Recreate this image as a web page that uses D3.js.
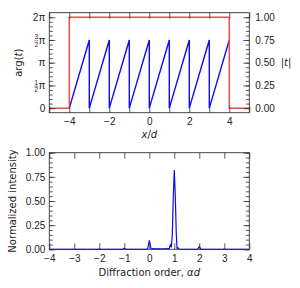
<!DOCTYPE html>
<html>
<head>
<meta charset="utf-8">
<script src="https://cdn.jsdelivr.net/npm/d3@7"></script>
<style>
    body { margin: 0; background: #fff; }
    svg { display: block; font-family: "DejaVu Sans", sans-serif; }
    .axis text { font-size: 10px; fill: #222; }
    .axis line { stroke: #333; stroke-width: 0.8; }
    .axis path { display: none; }
    .frame { fill: none; stroke: #333; stroke-width: 0.9; }
    .label { font-size: 10px; fill: #222; }
</style>
</head>
<body>
<div id="chart"></div>
<script>
// top panel: aperture phase (in units of pi) and magnitude
let phaseX = [-4, -3, -3, -2, -2, -1, -1, 0, 0, 1, 1, 2, 2, 3, 3, 4];
let phaseY = [0, 1.5, 0, 1.5, 0, 1.5, 0, 1.5, 0, 1.5, 0, 1.5, 0, 1.5, 0, 1.5];
let magX = [-5, -4, -4, 4, 4, 5];
let magY = [0, 0, 1, 1, 0, 0];

let posTicks = [-5, -4, -3, -2, -1, 0, 1, 2, 3, 4, 5];
let posLabels = [-4, -2, 0, 2, 4];
let phaseTicks = [0, 0.5, 1, 1.5, 2];
let phaseLabels = [["0"], ["1", "2"], ["π"], ["3", "2"], ["2π"]];
let magTicks = [0, 0.25, 0.5, 0.75, 1];

// bottom panel: far-field intensity
let orderX = [-4, -3.05, -3, -2.95, -2.05, -2, -1.95, -1.08, -1.04, -1, -0.96, -0.92,
    -0.1, -0.06, -0.03, 0, 0.03, 0.06, 0.09, 0.13, 0.17, 0.22, 0.27, 0.32, 0.37, 0.42,
    0.47, 0.52, 0.57, 0.62, 0.67, 0.72, 0.77, 0.8, 0.84, 0.88, 0.92, 0.96, 1, 1.04,
    1.08, 1.11, 1.15, 1.19, 1.25, 1.92, 1.96, 2, 2.04, 2.08, 2.96, 3, 3.04, 4];
let intensity = [0, 0, 0.002, 0, 0, 0.004, 0, 0, 0.004, 0.011, 0.004, 0,
    0, 0.01, 0.05, 0.092, 0.06, 0.015, 0.003, 0.008, 0.002, 0.007, 0.002, 0.006, 0.002, 0.006,
    0.002, 0.007, 0.003, 0.008, 0.003, 0.01, 0.005, 0.01, 0.045, 0.02, 0.15, 0.55, 0.82, 0.55,
    0.15, 0.01, 0.016, 0.003, 0, 0, 0.012, 0.028, 0.012, 0, 0, 0.005, 0, 0];
let orderTicks = [-4, -3, -2, -1, 0, 1, 2, 3, 4];
let intensityTicks = [0, 0.25, 0.5, 0.75, 1];

let width = 300, height = 288;
let left = 49.3, right = 249.3;

let svg = d3.select("#chart").append("svg")
    .attr("width", width)
    .attr("height", height);

function minorRange(a, b, step) {
    return d3.range(Math.round((b - a) / step) + 1).map(function(i) { return a + i * step; });
}

// ---------- top panel ----------
let top1 = 12.7, bot1 = 112.7;

let x1 = d3.scaleLinear().domain([-5, 5]).range([left, right]);
let yPhase = d3.scaleLinear().domain([-0.1, 2.1]).range([bot1, top1]);
let yMag = d3.scaleLinear().domain([-0.05, 1.05]).range([bot1, top1]);

let g1 = svg.append("g");

g1.append("path")
    .datum(d3.zip(phaseX, phaseY))
    .attr("fill", "none")
    .attr("stroke", "#0c0cf5")
    .attr("stroke-width", 1.4)
    .attr("d", d3.line().x(function(d) { return x1(d[0]); }).y(function(d) { return yPhase(d[1]); }));

g1.append("path")
    .datum(d3.zip(magX, magY))
    .attr("fill", "none")
    .attr("stroke", "#f24a4a")
    .attr("stroke-width", 1.5)
    .attr("d", d3.line().x(function(d) { return x1(d[0]); }).y(function(d) { return yMag(d[1]); }));

g1.append("rect").attr("class", "frame")
    .attr("x", left).attr("y", top1).attr("width", right - left).attr("height", bot1 - top1);

g1.append("g").attr("class", "axis")
    .attr("transform", "translate(0," + bot1 + ")")
    .call(d3.axisBottom(x1).tickValues(posTicks).tickSizeInner(-6).tickSizeOuter(0).tickPadding(5.5)
        .tickFormat(function(d) { return posLabels.indexOf(d) >= 0 ? d3.format("")(d).replace("-", "−") : ""; }));

g1.append("g").attr("class", "axis")
    .attr("transform", "translate(0," + top1 + ")")
    .call(d3.axisTop(x1).tickValues(posTicks).tickSizeInner(-6).tickSizeOuter(0).tickFormat(""));

// left phase axis, minors then majors
g1.append("g").attr("class", "axis")
    .attr("transform", "translate(" + left + ",0)")
    .call(d3.axisLeft(yPhase).tickValues(minorRange(0, 2, 0.1)).tickSizeInner(-3.5).tickSizeOuter(0).tickFormat(""));

let phaseAxis = g1.append("g").attr("class", "axis")
    .attr("transform", "translate(" + left + ",0)")
    .call(d3.axisLeft(yPhase).tickValues(phaseTicks).tickSizeInner(-6).tickSizeOuter(0).tickFormat(""));

phaseAxis.selectAll(".tick").each(function(d, i) {
    let t = d3.select(this);
    let lab = phaseLabels[i];
    if (lab.length === 1) {
        t.append("text").attr("x", -4).attr("dy", "0.32em")
            .attr("text-anchor", "end").text(lab[0]);
    } else {
        t.append("text").attr("x", -4).attr("dy", "0.32em")
            .attr("text-anchor", "end").text("π");
        t.append("text").attr("x", -13).attr("y", -1)
            .attr("text-anchor", "middle").style("font-size", "6.5px").text(lab[0]);
        t.append("text").attr("x", -13).attr("y", 6.3)
            .attr("text-anchor", "middle").style("font-size", "6.5px").text(lab[1]);
        t.append("line").attr("x1", -15).attr("x2", -11).attr("y1", 0.3).attr("y2", 0.3)
            .style("stroke", "#222").style("stroke-width", 0.5);
    }
});

// right magnitude axis
g1.append("g").attr("class", "axis")
    .attr("transform", "translate(" + right + ",0)")
    .call(d3.axisRight(yMag).tickValues(minorRange(0, 1, 0.05)).tickSizeInner(-3.5).tickSizeOuter(0).tickFormat(""));

g1.append("g").attr("class", "axis")
    .attr("transform", "translate(" + right + ",0)")
    .call(d3.axisRight(yMag).tickValues(magTicks).tickSizeInner(-6).tickSizeOuter(0).tickPadding(6)
        .tickFormat(d3.format(".2f")));

let xd = g1.append("text").attr("class", "label")
    .attr("x", (left + right) / 2).attr("y", 138).attr("text-anchor", "middle");
xd.append("tspan").style("font-style", "italic").text("x");
xd.append("tspan").text("/");
xd.append("tspan").style("font-style", "italic").text("d");

let argLabel = g1.append("text").attr("class", "label")
    .attr("transform", "translate(22," + ((top1 + bot1) / 2) + ") rotate(-90)")
    .attr("text-anchor", "middle");
argLabel.append("tspan").text("arg(");
argLabel.append("tspan").style("font-style", "italic").text("t");
argLabel.append("tspan").text(")");

let tLabel = g1.append("text").attr("class", "label")
    .attr("x", 286).attr("y", yMag(0.5)).attr("dy", "0.35em")
    .attr("text-anchor", "middle");
tLabel.append("tspan").text("|");
tLabel.append("tspan").style("font-style", "italic").text("t");
tLabel.append("tspan").text("|");

// ---------- bottom panel ----------
let top2 = 152.7, bot2 = 249.3;

let x2 = d3.scaleLinear().domain([-4, 4]).range([left, right]);
let y2 = d3.scaleLinear().domain([0, 1]).range([bot2, top2]);

let g2 = svg.append("g");

g2.append("path")
    .datum(d3.zip(orderX, intensity))
    .attr("fill", "none")
    .attr("stroke", "#0c0cf5")
    .attr("stroke-width", 1.2)
    .attr("d", d3.line().x(function(d) { return x2(d[0]); }).y(function(d) { return y2(d[1]); }));

g2.append("rect").attr("class", "frame")
    .attr("x", left).attr("y", top2).attr("width", right - left).attr("height", bot2 - top2);

g2.append("g").attr("class", "axis")
    .attr("transform", "translate(0," + bot2 + ")")
    .call(d3.axisBottom(x2).tickValues(orderTicks).tickSizeInner(-6).tickSizeOuter(0).tickPadding(5.5)
        .tickFormat(function(d) { return d3.format("")(d).replace("-", "−"); }));

g2.append("g").attr("class", "axis")
    .attr("transform", "translate(0," + top2 + ")")
    .call(d3.axisTop(x2).tickValues(orderTicks).tickSizeInner(-6).tickSizeOuter(0).tickFormat(""));

[[left, d3.axisLeft], [right, d3.axisRight]].forEach(function(side) {
    g2.append("g").attr("class", "axis")
        .attr("transform", "translate(" + side[0] + ",0)")
        .call(side[1](y2).tickValues(minorRange(0, 1, 0.05)).tickSizeInner(-3.5).tickSizeOuter(0).tickFormat(""));
});

g2.append("g").attr("class", "axis")
    .attr("transform", "translate(" + left + ",0)")
    .call(d3.axisLeft(y2).tickValues(intensityTicks).tickSizeInner(-6).tickSizeOuter(0).tickPadding(4)
        .tickFormat(d3.format(".2f")));

g2.append("g").attr("class", "axis")
    .attr("transform", "translate(" + right + ",0)")
    .call(d3.axisRight(y2).tickValues(intensityTicks).tickSizeInner(-6).tickSizeOuter(0).tickFormat(""));

let orderLabel = g2.append("text").attr("class", "label")
    .attr("x", (left + right) / 2).attr("y", 275.5).attr("text-anchor", "middle");
orderLabel.append("tspan").text("Diffraction order, ");
orderLabel.append("tspan").style("font-style", "italic").text("αd");

g2.append("text").attr("class", "label")
    .attr("transform", "translate(16," + ((top2 + bot2) / 2) + ") rotate(-90)")
    .attr("text-anchor", "middle")
    .text("Normalized intensity");
</script>
</body>
</html>
